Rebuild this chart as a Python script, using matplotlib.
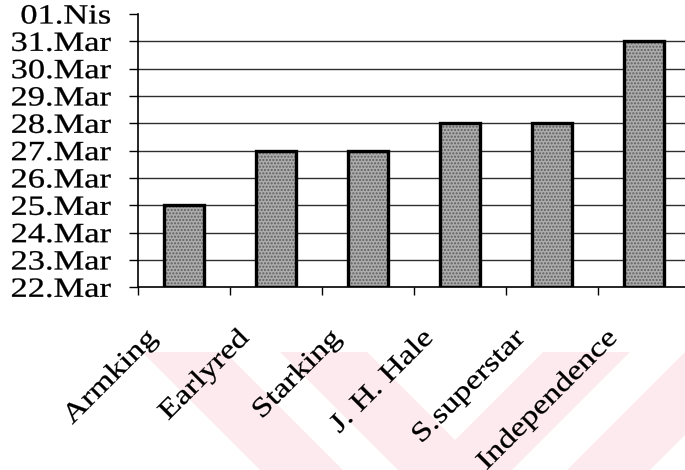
import matplotlib
matplotlib.use("Agg")
import matplotlib.pyplot as plt
from matplotlib.patches import Polygon
from matplotlib.patheffects import AbstractPathEffect
from matplotlib.transforms import Affine2D, ScaledTranslation

# Flowering dates (day of March; 32 = 1 April)
varieties = ["Armking", "Earlyred", "Starking", "J. H. Hale", "S.superstar", "Independence"]
bloom_day = [25, 27, 27, 28, 28, 31]
day_ticks = [22, 23, 24, 25, 26, 27, 28, 29, 30, 31, 32]
day_labels = ["22.Mar", "23.Mar", "24.Mar", "25.Mar", "26.Mar", "27.Mar",
              "28.Mar", "29.Mar", "30.Mar", "31.Mar", "01.Nis"]

W, H = 685, 470
SERIF = "Liberation Serif"


class WideText(AbstractPathEffect):
    """Draw text glyphs stretched along the baseline (anchored at the right end),
    with a thin outline to give a slightly heavier stroke."""

    def __init__(self, sx, weight=0.2):
        super().__init__()
        self.sx = sx
        self.weight = weight

    def draw_path(self, renderer, gc, tpath, affine, rgbFace=None):
        x1 = tpath.get_extents().x1
        stretch = Affine2D().translate(-x1, 0).scale(self.sx, 1).translate(x1, 0)
        gc0 = renderer.new_gc()
        gc0.copy_properties(gc)
        gc0.set_linewidth(self.weight)
        gc0.set_foreground(rgbFace)
        renderer.draw_path(gc0, tpath, stretch + affine, rgbFace)
        gc0.restore()


fig = plt.figure(figsize=(W / 100, H / 100), dpi=100)
fig.patch.set_facecolor("white")


def px(x, y):
    return (x / W, 1 - y / H)


# Pale chevron background band pattern under the category labels
xc, ytop = 455, 352
for s, col in [(665, "#fdeaee"), (582, "white"), (527, "#fdeaee"), (440, "white")]:
    pts = [px(xc - (s - ytop), ytop), px(xc + (s - ytop), ytop), px(xc, s)]
    fig.add_artist(Polygon(pts, closed=True, transform=fig.transFigure,
                           facecolor=col, edgecolor="none", zorder=-5))

left, right, top, bottom = 138, 690, 14, 287.3
ax = fig.add_axes([left / W, 1 - bottom / H, (right - left) / W, (bottom - top) / H])
ax.set_facecolor("none")

x = list(range(len(varieties)))
heights = [d - day_ticks[0] for d in bloom_day]
# stippled fill
ax.bar(x, heights, bottom=day_ticks[0], width=0.43, facecolor="#acacac",
       edgecolor="#5e5e5e", hatch=".....", linewidth=0, zorder=3)
# heavy outline
ax.bar(x, heights, bottom=day_ticks[0], width=0.43, facecolor="none",
       edgecolor="black", linewidth=2.4, zorder=4)

ax.set_xlim(-0.5, len(varieties) - 0.5)
ax.set_ylim(day_ticks[0], day_ticks[-1])

for d in day_ticks[1:-1]:
    ax.axhline(d, color="#2e2e2e", linewidth=1.0, zorder=1)

for side in ["top", "right"]:
    ax.spines[side].set_visible(False)
ax.spines["left"].set_linewidth(1.2)
ax.spines["bottom"].set_linewidth(1.2)
ax.spines["left"].set_zorder(5)
ax.spines["bottom"].set_zorder(5)

ax.set_yticks(day_ticks, day_labels)
ax.tick_params(axis="y", direction="out", length=6.5, width=1.0, pad=13,
               labelsize=20, colors="black")
for lbl in ax.get_yticklabels():
    lbl.set_fontfamily(SERIF)
    lbl.set_path_effects([WideText(1.24)])

ax.set_xticks(x, varieties)
ax.set_xticks([i - 0.5 for i in range(len(varieties) + 1)], minor=True)
ax.tick_params(axis="x", which="major", length=0, pad=34, labelsize=19.5)
ax.tick_params(axis="x", which="minor", direction="out", length=6, width=1.0)
shift = ScaledTranslation(-22 / 72, 0, fig.dpi_scale_trans)
for lbl in ax.get_xticklabels():
    lbl.set_fontfamily(SERIF)
    lbl.set_rotation(45)
    lbl.set_rotation_mode("anchor")
    lbl.set_ha("right")
    lbl.set_va("center")
    lbl.set_transform(lbl.get_transform() + shift)
    lbl.set_path_effects([WideText(1.24)])

fig.savefig("out.png", dpi=100, facecolor="white")
